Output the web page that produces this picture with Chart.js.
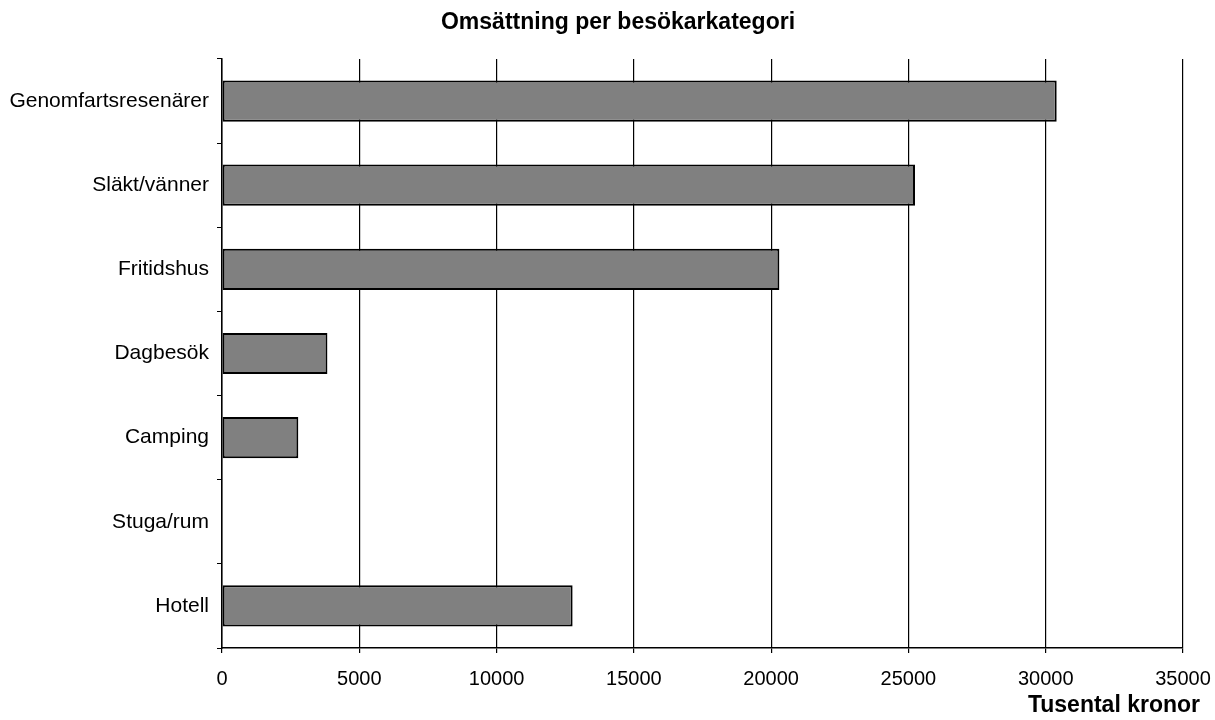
<!DOCTYPE html>
<html>
<head>
<meta charset="utf-8">
<script src="https://cdn.jsdelivr.net/npm/chart.js@4/dist/chart.umd.min.js"></script>
<style>
  html, body { margin: 0; padding: 0; background: #fff; }
  #wrap { width: 1215px; height: 720px; }
</style>
</head>
<body>
<div id="wrap"><canvas id="chart" width="1215" height="720"></canvas></div>
<script>
const categories = ['Genomfartsresenärer', 'Släkt/vänner', 'Fritidshus', 'Dagbesök', 'Camping', 'Stuga/rum', 'Hotell'];
const values = [30400, 25240, 20300, 3840, 2780, 0, 12770];
const xTicks = [0, 5000, 10000, 15000, 20000, 25000, 30000, 35000];
const chartTitle = 'Omsättning per besökarkategori';
const xTitle = 'Tusental kronor';

const FONT = '"Liberation Sans", Arial, sans-serif';
Chart.defaults.font.family = FONT;
Chart.defaults.color = '#000';

// both titles sit off-centre from the plot in the original, so draw them by hand
const titlesPlugin = {
    id: 'titles',
    afterDraw(chart) {
        const c = chart.ctx;
        c.save();
        c.font = 'bold 23px ' + FONT;
        c.fillStyle = '#000';
        c.textBaseline = 'middle';
        c.textAlign = 'center';
        c.fillText(chartTitle, 618, 23);
        c.textAlign = 'right';
        c.fillText(xTitle, chart.scales.x.right + 17, 706);
        c.restore();
    }
};

const ctx = document.getElementById('chart').getContext('2d');
new Chart(ctx, {
    type: 'bar',
    data: {
        labels: categories,
        datasets: [{
            data: values,
            backgroundColor: '#808080',
            borderColor: '#000',
            borderWidth: 2,
            borderSkipped: false,
            barPercentage: 0.49,
            categoryPercentage: 1
        }]
    },
    plugins: [titlesPlugin],
    options: {
        indexAxis: 'y',
        responsive: false,
        animation: false,
        layout: { padding: { left: 0, right: 32, top: 59, bottom: 0 } },
        plugins: {
            legend: { display: false },
            tooltip: { enabled: false },
            title: { display: false }
        },
        scales: {
            x: {
                min: 0,
                max: xTicks[xTicks.length - 1],
                afterBuildTicks: (axis) => { axis.ticks = xTicks.map(v => ({ value: v })); },
                afterFit: (axis) => {
                    axis.height = 72;
                    axis.paddingLeft = 0;
                    axis.paddingRight = 0;
                },
                grid: { color: '#000', lineWidth: 1.2, tickLength: 5, drawTicks: true },
                border: { display: true, color: '#000', width: 1.5 },
                ticks: {
                    font: { size: 20 },
                    padding: 14,
                    maxRotation: 0,
                    callback: (v) => String(v)
                }
            },
            y: {
                afterFit: (axis) => { axis.width = 222; },
                grid: { display: true, drawOnChartArea: false, drawTicks: true, tickLength: 5, color: '#000', offset: true },
                border: { display: true, color: '#000', width: 1.5 },
                ticks: { font: { size: 21 }, padding: 8 }
            }
        }
    }
});
</script>
</body>
</html>
